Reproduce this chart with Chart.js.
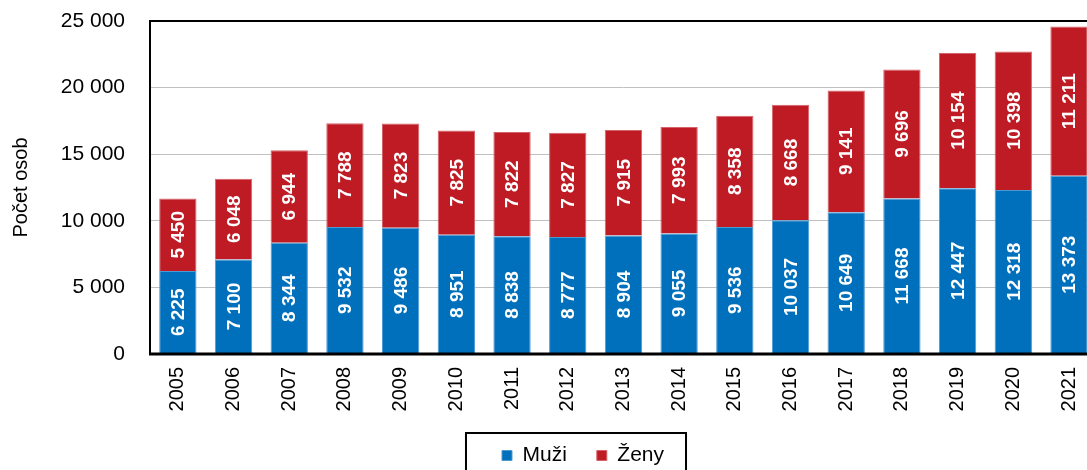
<!DOCTYPE html>
<html>
<head>
<meta charset="utf-8">
<script src="https://cdn.jsdelivr.net/npm/chart.js@4"></script>
<style>
  html, body { margin: 0; padding: 0; background: #fff; overflow: hidden; }
  #wrap { width: 1106px; height: 476px; }
</style>
</head>
<body>
<div id="wrap"><canvas id="chart" width="1106" height="476"></canvas></div>
<script>
var years = ["2005", "2006", "2007", "2008", "2009", "2010", "2011", "2012", "2013",
             "2014", "2015", "2016", "2017", "2018", "2019", "2020", "2021"];
var muzi = [6225, 7100, 8344, 9532, 9486, 8951, 8838, 8777, 8904, 9055, 9536, 10037, 10649, 11668, 12447, 12318, 13373];
var zeny = [5450, 6048, 6944, 7788, 7823, 7825, 7822, 7827, 7915, 7993, 8358, 8668, 9141, 9696, 10154, 10398, 11211];
var yTicks = [0, 5000, 10000, 15000, 20000, 25000];

var FONT = "'Liberation Sans', Arial, Helvetica, sans-serif";

function fmt(v){
    return String(v).replace(/\B(?=(\d{3})+(?!\d))/g, ' ');
}

// white numbers inside the bars, rotated
var barLabels = {
    id: 'barLabels',
    afterDatasetsDraw: function(chart){
        var ctx = chart.ctx;
        ctx.save();
        ctx.fillStyle = '#fff';
        ctx.font = 'bold 19px ' + FONT;
        ctx.textAlign = 'center';
        ctx.textBaseline = 'middle';
        chart.data.datasets.forEach(function(ds, i){
            chart.getDatasetMeta(i).data.forEach(function(bar, j){
                var cy = (bar.y + bar.base) / 2;
                ctx.save();
                ctx.translate(bar.x + 1, cy);
                ctx.rotate(-Math.PI / 2);
                ctx.fillText(fmt(ds.data[j]), 0, 0);
                ctx.restore();
            });
        });
        ctx.restore();
    }
};

// plot frame + legend box
var frame = {
    id: 'frame',
    afterLayout: function(chart){
        var lg = chart.legend;
        var dx = 583 - (lg.left + lg.right) / 2;
        lg.left += dx;
        lg.right += dx;
    },
    afterDraw: function(chart){
        var ctx = chart.ctx, a = chart.chartArea;
        ctx.save();
        ctx.strokeStyle = '#000';
        ctx.lineWidth = 2;
        ctx.beginPath();
        ctx.moveTo(a.right + 5, a.top);
        ctx.lineTo(a.left, a.top);
        ctx.lineTo(a.left, a.bottom);
        ctx.stroke();
        ctx.lineWidth = 3;
        ctx.beginPath();
        ctx.moveTo(a.left - 1, a.bottom);
        ctx.lineTo(a.right + 5, a.bottom);
        ctx.stroke();

        var hb = chart.legend.legendHitBoxes;
        if (hb && hb.length){
            var last = hb[hb.length - 1];
            var l = hb[0].left - 36;
            var r = last.left + last.width + 22;
            ctx.lineWidth = 2;
            ctx.strokeRect(l, hb[0].top - 12, r - l, 60);
        }
        ctx.restore();
    }
};

var ctx = document.getElementById('chart');
var chart = new Chart(ctx, {
    type: 'bar',
    data: {
        labels: years,
        datasets: [{
            label: 'Muži',
            data: muzi,
            backgroundColor: '#0070bd',
            borderColor: '#4d9ad3',
            borderWidth: 1,
            barPercentage: 0.67,
            categoryPercentage: 1
        }, {
            label: 'Ženy',
            data: zeny,
            backgroundColor: '#be1b24',
            borderColor: '#d5646a',
            borderWidth: 1,
            barPercentage: 0.67,
            categoryPercentage: 1
        }]
    },
    options: {
        responsive: false,
        animation: false,
        devicePixelRatio: 1,
        layout: {
            padding: { top: 21, left: 0, right: 0, bottom: 0 }
        },
        scales: {
            x: {
                stacked: true,
                grid: { display: false, drawTicks: false },
                border: { display: false },
                ticks: {
                    color: '#000',
                    font: { family: FONT, size: 20 },
                    minRotation: 90,
                    maxRotation: 90,
                    padding: 13,
                    autoSkip: false
                },
                afterFit: function(s){
                    s.height = 61;
                }
            },
            y: {
                stacked: true,
                min: yTicks[0],
                max: yTicks[yTicks.length - 1],
                afterBuildTicks: function(s){
                    s.ticks = yTicks.map(function(v){ return { value: v }; });
                },
                grid: {
                    color: '#c0c0c0',
                    lineWidth: 1,
                    drawTicks: true,
                    tickLength: 22,
                    tickColor: 'rgba(0,0,0,0)'
                },
                border: { display: false },
                ticks: {
                    color: '#000',
                    font: { family: FONT, size: 21 },
                    padding: 3,
                    callback: function(v){ return fmt(v); }
                },
                title: {
                    display: true,
                    text: 'Počet osob',
                    color: '#000',
                    font: { family: FONT, size: 20 },
                    padding: { top: 9, bottom: 0 }
                },
                afterFit: function(s){
                    s.width = 150;
                }
            }
        },
        plugins: {
            legend: {
                position: 'bottom',
                labels: {
                    color: '#000',
                    font: { family: FONT, size: 21 },
                    boxWidth: 10,
                    boxHeight: 10,
                    padding: 30
                }
            },
            tooltip: { enabled: false },
            title: { display: false }
        }
    },
    plugins: [barLabels, frame]
});
</script>
</body>
</html>
